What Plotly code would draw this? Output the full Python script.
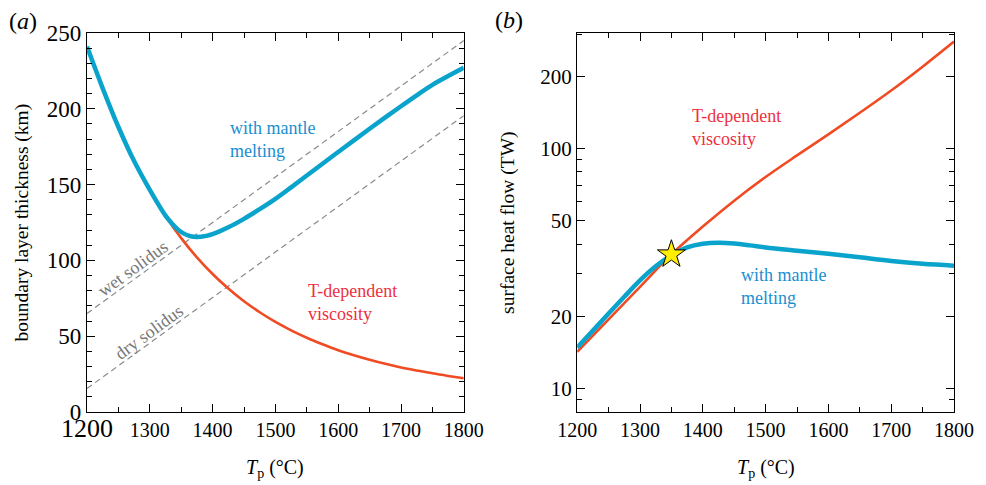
import plotly.graph_objects as go

# ---------------- data ----------------
# panel (a): boundary layer thickness (km)
T_blue_a = [1200, 1225, 1250, 1275, 1300, 1325, 1335, 1345, 1355, 1365, 1375, 1390,
            1400, 1425, 1450, 1475, 1500, 1525, 1550, 1575, 1600, 1625, 1650, 1675,
            1700, 1725, 1750, 1775, 1800]
blue_a = [241, 213.5, 188, 165.5, 146.5, 129.5, 124.5, 120.3, 117.5, 115.9, 115.4, 116.2,
          117.3, 121.8, 127.4, 133.8, 140.6, 148.2, 156, 163.8, 171.5, 179.2, 186.8, 194.3,
          201.7, 208.9, 215.8, 221.6, 227]
T_red_a = [1200, 1225, 1250, 1275, 1300, 1325, 1350, 1375, 1400, 1425, 1450, 1475,
           1500, 1525, 1550, 1575, 1600, 1625, 1650, 1675, 1700, 1725, 1750, 1775, 1800]
red_a = [241, 213.5, 188, 165.5, 146.5, 129.3, 114.7, 102.0, 91.0, 81.4, 73.0, 65.8,
         59.4, 53.9, 49.0, 44.7, 40.8, 37.5, 34.5, 31.8, 29.4, 27.4, 25.5, 23.8, 22.2]
T_solidus = [1200, 1800]
wet_solidus = [65, 245]
dry_solidus = [15.5, 195.5]

# panel (b): surface heat flow (TW)
T_blue_b = [1200, 1225, 1250, 1275, 1300, 1325, 1350, 1375, 1400, 1425, 1450, 1475,
            1500, 1550, 1600, 1650, 1700, 1750, 1800]
blue_b = [14.8, 17.4, 20.5, 24.1, 28.2, 32.3, 35.9, 38.7, 40.1, 40.5, 40.2, 39.5,
          38.7, 37.5, 36.4, 35.2, 34.0, 33.1, 32.5]
T_red_b = [1200, 1250, 1300, 1350, 1400, 1450, 1500, 1550, 1600, 1650, 1700, 1750, 1800]
red_b = [14.2, 19.4, 26.5, 36.2, 47.3, 60.7, 76.2, 93.8, 114.8, 141.3, 175, 220, 280]
star_T = [1350]
star_Q = [36.2]

x_ticks = [1200, 1300, 1400, 1500, 1600, 1700, 1800]
x_minor = [1250, 1350, 1450, 1550, 1650, 1750]
y_ticks_a = [0, 50, 100, 150, 200, 250]
y_ticks_b = [10, 20, 50, 100, 200]
y_minor_b = [9, 30, 40, 60, 70, 80, 90, 300]

# ---------------- style ----------------
BLUE = "#0aa3cc"
RED = "#f04b23"
BLUE_TXT = "#1a8fd0"
RED_TXT = "#ee3040"
GREY = "#8a8a8a"
FONT = "Liberation Serif"

fig = go.Figure()

# panel a
for ys in (wet_solidus, dry_solidus):
    fig.add_trace(go.Scatter(x=T_solidus, y=ys, mode="lines", xaxis="x", yaxis="y",
                             line=dict(color=GREY, width=1.2, dash="6px,4px")))
fig.add_trace(go.Scatter(x=T_red_a, y=red_a, mode="lines", xaxis="x", yaxis="y",
                         line=dict(color=RED, width=2.6, shape="spline")))
fig.add_trace(go.Scatter(x=T_blue_a, y=blue_a, mode="lines", xaxis="x", yaxis="y",
                         line=dict(color=BLUE, width=4.5, shape="spline")))

# panel b
fig.add_trace(go.Scatter(x=T_red_b, y=red_b, mode="lines", xaxis="x2", yaxis="y2",
                         line=dict(color=RED, width=2.6, shape="spline")))
fig.add_trace(go.Scatter(x=T_blue_b, y=blue_b, mode="lines", xaxis="x2", yaxis="y2",
                         line=dict(color=BLUE, width=4.5, shape="spline")))
fig.add_trace(go.Scatter(x=star_T, y=star_Q, mode="markers", xaxis="x2", yaxis="y2",
                         marker=dict(symbol="star", size=21, color="#ffee00",
                                     line=dict(color="black", width=1))))

axis_common = dict(showline=True, linecolor="black", linewidth=1.4, mirror="ticks",
                   ticks="inside", ticklen=8, tickwidth=1.2, tickcolor="black",
                   showgrid=False, zeroline=False)
minor_common = dict(ticklen=4.5, ticks="inside", tickcolor="black", tickwidth=1.1)

x_ticktext_a = ['<span style="font-size:26px">1200</span>'] + [str(v) for v in x_ticks[1:]]

fig.update_layout(
    width=986, height=485,
    margin=dict(l=87, r=27, t=33, b=73),
    paper_bgcolor="white", plot_bgcolor="white",
    showlegend=False,
    font=dict(family=FONT, color="black", size=20),
    xaxis=dict(domain=[0, 0.4346], range=[1200, 1800], tickvals=x_ticks,
               ticktext=x_ticktext_a, tickfont=dict(size=20),
               minor=dict(tickvals=x_minor, **minor_common),
               anchor="y", **axis_common),
    yaxis=dict(domain=[0, 1], range=[0, 250], tickvals=y_ticks_a,
               tickfont=dict(size=23),
               minor=dict(dtick=10, tick0=0, **minor_common),
               anchor="x", **axis_common),
    xaxis2=dict(domain=[0.5654, 1], range=[1200, 1800], tickvals=x_ticks,
                tickfont=dict(size=20),
                minor=dict(tickvals=x_minor, **minor_common),
                anchor="y2", **axis_common),
    yaxis2=dict(domain=[0, 1], type="log", range=[0.901, 2.483], tickvals=y_ticks_b,
                ticktext=[str(v) for v in y_ticks_b], tickfont=dict(size=21),
                minor=dict(tickvals=y_minor_b, **minor_common),
                anchor="x2", **axis_common),
)

ann = []
# panel labels
ann.append(dict(text="(<i>a</i>)", xref="paper", yref="paper", x=-0.0917, y=1.032,
                xanchor="left", yanchor="middle", showarrow=False, font=dict(size=24)))
ann.append(dict(text="(<i>b</i>)", xref="paper", yref="paper", x=0.468, y=1.034,
                xanchor="left", yanchor="middle", showarrow=False, font=dict(size=24)))
# axis titles
ann.append(dict(text="boundary layer thickness (km)", xref="paper", yref="paper",
                x=-0.075, y=0.5, textangle=-90, showarrow=False,
                xanchor="center", yanchor="middle", font=dict(size=19.5)))
ann.append(dict(text="surface heat flow (TW)", xref="paper", yref="paper",
                x=0.4849, y=0.5, textangle=-90, showarrow=False,
                xanchor="center", yanchor="middle", font=dict(size=19.5)))
ann.append(dict(text="<i>T</i><sub>p</sub> (°C)", xref="paper", yref="paper",
                x=0.2173, y=-0.148, showarrow=False, xanchor="center", yanchor="middle",
                font=dict(size=20)))
ann.append(dict(text="<i>T</i><sub>p</sub> (°C)", xref="paper", yref="paper",
                x=0.7827, y=-0.148, showarrow=False, xanchor="center", yanchor="middle",
                font=dict(size=20)))
# curve labels
ann.append(dict(text="with mantle<br>melting", xref="x", yref="y", x=1424, y=180,
                xanchor="left", yanchor="middle", align="left", showarrow=False,
                font=dict(size=18, color=BLUE_TXT)))
ann.append(dict(text="T-dependent<br>viscosity", xref="x", yref="y", x=1549, y=72,
                xanchor="left", yanchor="middle", align="left", showarrow=False,
                font=dict(size=18, color=RED_TXT)))
ann.append(dict(text="wet solidus", xref="x", yref="y", x=1274, y=95, textangle=-36,
                xanchor="center", yanchor="middle", showarrow=False,
                font=dict(size=18, color="#777777")))
ann.append(dict(text="dry solidus", xref="x", yref="y", x=1299, y=53, textangle=-36,
                xanchor="center", yanchor="middle", showarrow=False,
                font=dict(size=18, color="#777777")))
ann.append(dict(text="T-dependent<br>viscosity", xref="x2", yref="y2", x=1380, y=2.0875,
                xanchor="left", yanchor="middle", align="left", showarrow=False,
                font=dict(size=18, color=RED_TXT)))
ann.append(dict(text="with mantle<br>melting", xref="x2", yref="y2", x=1458, y=1.425,
                xanchor="left", yanchor="middle", align="left", showarrow=False,
                font=dict(size=18, color=BLUE_TXT)))
fig.update_layout(annotations=ann)

fig.write_html("out.html")
